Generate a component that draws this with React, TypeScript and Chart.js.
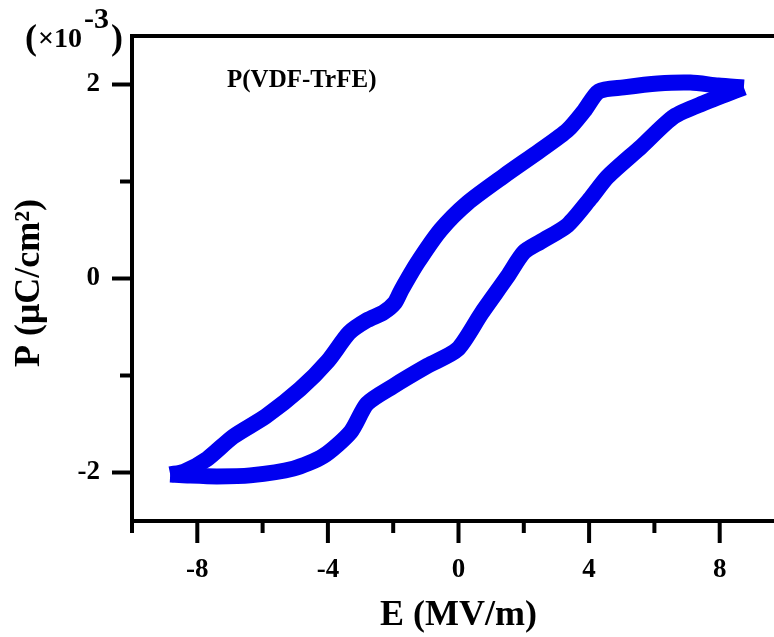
import { useEffect, useRef } from 'react';
import { Chart, registerables } from 'chart.js';

Chart.register(...registerables);

// Polarization loop, upper branch (field rising from -Emax to +Emax)
const upperE = [-8.83, -8.4, -7.7, -6.9, -5.9, -4.85, -4.0, -3.35, -2.8, -2.3, -1.95, -1.75, -1.26, -0.55, 0.28, 1.4, 2.5, 3.34, 3.85, 4.3, 5.06, 6.1, 7.1, 7.95, 8.74];
const upperP = [-2.02, -1.99, -1.86, -1.63, -1.42, -1.14, -0.85, -0.56, -0.43, -0.35, -0.25, -0.12, 0.16, 0.5, 0.78, 1.06, 1.32, 1.53, 1.73, 1.93, 1.97, 2.01, 2.02, 1.99, 1.97];

// Lower branch (field returning from +Emax to -Emax)
const lowerE = [8.74, 8.2, 7.6, 6.6, 5.6, 4.57, 4.05, 3.34, 2.52, 2.0, 1.5, 0.7, -0.03, -0.95, -2.0, -2.8, -3.3, -4.14, -5.06, -6.38, -7.4, -8.3, -8.83];
const lowerP = [1.97, 1.9, 1.82, 1.67, 1.36, 1.05, 0.83, 0.55, 0.38, 0.27, 0.02, -0.36, -0.73, -0.9, -1.11, -1.29, -1.58, -1.83, -1.96, -2.03, -2.04, -2.03, -2.02];

const eMajorTicks = [-8, -4, 0, 4, 8];
const eMinorTicks = [-10, -6, -2, 2, 6, 10];
const pMajorTicks = [-2, 0, 2];
const pMinorTicks = [-1, 1];

const eTitle = 'E (MV/m)';
const pTitle = 'P (\u03bcC/cm\u00b2) ';
const sampleLabel = 'P(VDF-TrFE)';

const FONT = "'Liberation Serif', 'Times New Roman', serif";
const LOOP_BLUE = '#0000f0';

const toPoints = (xs: number[], ys: number[]) => xs.map((x, i) => ({ x, y: ys[i] }));

// Axes box, outward tick marks (major + minor), exponent and sample label
const framePlugin = {
  id: 'frame',
  afterDraw(chart: any) {
    const { ctx, chartArea: a, scales } = chart;
    const xs = scales.x;
    const ys = scales.y;
    ctx.save();
    ctx.strokeStyle = '#000';
    ctx.lineWidth = 4;
    ctx.lineCap = 'butt';
    ctx.strokeRect(a.left, a.top, a.right - a.left, a.bottom - a.top);

    const seg = (x1: number, y1: number, x2: number, y2: number) => {
      ctx.beginPath();
      ctx.moveTo(x1, y1);
      ctx.lineTo(x2, y2);
      ctx.stroke();
    };
    eMajorTicks.forEach((v) => {
      const x = xs.getPixelForValue(v);
      seg(x, a.bottom, x, a.bottom + 22);
    });
    eMinorTicks.forEach((v) => {
      const x = xs.getPixelForValue(v);
      seg(x, a.bottom, x, a.bottom + 12);
    });
    pMajorTicks.forEach((v) => {
      const y = ys.getPixelForValue(v);
      seg(a.left, y, a.left - 20, y);
    });
    pMinorTicks.forEach((v) => {
      const y = ys.getPixelForValue(v);
      seg(a.left, y, a.left - 12, y);
    });

    // (×10^-3) multiplier
    ctx.fillStyle = '#000';
    ctx.textBaseline = 'alphabetic';
    ctx.textAlign = 'left';
    let x = a.left - 107;
    const base = a.top + 11;
    const piece = (text: string, size: number, dy: number, gap: number) => {
      ctx.font = `bold ${size}px ${FONT}`;
      ctx.fillText(text, x, base + dy);
      x += ctx.measureText(text).width + gap;
    };
    piece('(', 36, 2, 1);
    piece('\u00d710', 28, 0, 2);
    piece('-3', 30, -19, 2);
    piece(')', 36, 2, 0);

    ctx.font = `bold 25px ${FONT}`;
    ctx.fillText(sampleLabel, a.left + 95, a.top + 51);
    ctx.restore();
  },
};

export default function App() {
  const canvasRef = useRef<HTMLCanvasElement | null>(null);

  useEffect(() => {
    if (!canvasRef.current) return;
    const lineStyle = {
      showLine: true,
      borderColor: LOOP_BLUE,
      backgroundColor: LOOP_BLUE,
      borderWidth: 16,
      pointRadius: 0,
      pointHoverRadius: 0,
      tension: 0.25,
      borderCapStyle: 'butt' as const,
      borderJoinStyle: 'round' as const,
      fill: false,
      clip: false as const,
    };
    const noEdgePadding = (scale: any) => {
      scale.paddingTop = 0;
      scale.paddingBottom = 0;
      scale.paddingLeft = 0;
      scale.paddingRight = 0;
    };
    const chart = new Chart(canvasRef.current, {
      type: 'scatter',
      data: {
        datasets: [
          { label: 'upper', data: toPoints(upperE, upperP), ...lineStyle },
          { label: 'lower', data: toPoints(lowerE, lowerP), ...lineStyle },
        ],
      },
      options: {
        animation: false,
        responsive: true,
        maintainAspectRatio: false,
        layout: { padding: { left: 0, top: 36, right: 15, bottom: 0 } },
        plugins: {
          legend: { display: false },
          tooltip: { enabled: false },
        },
        scales: {
          x: {
            type: 'linear',
            min: -10,
            max: 10,
            grid: { display: false, drawTicks: false },
            border: { display: false },
            afterBuildTicks: (scale: any) => {
              scale.ticks = eMajorTicks.map((value) => ({ value }));
            },
            afterFit: (scale: any) => {
              scale.height = 116;
              noEdgePadding(scale);
            },
            ticks: {
              padding: 33,
              color: '#000',
              font: { family: FONT, size: 27, weight: 'bold' },
            },
            title: {
              display: true,
              text: eTitle,
              color: '#000',
              padding: { top: 0, bottom: 0 },
              font: { family: FONT, size: 36, weight: 'bold' },
            },
          },
          y: {
            type: 'linear',
            min: -2.5,
            max: 2.5,
            grid: { display: false, drawTicks: false },
            border: { display: false },
            afterBuildTicks: (scale: any) => {
              scale.ticks = pMajorTicks.map((value) => ({ value }));
            },
            afterFit: (scale: any) => {
              scale.width = 132;
              noEdgePadding(scale);
            },
            ticks: {
              padding: 32,
              color: '#000',
              font: { family: FONT, size: 27, weight: 'bold' },
            },
            title: {
              display: true,
              text: pTitle,
              color: '#000',
              padding: { top: 8, bottom: 0 },
              font: { family: FONT, size: 36, weight: 'bold' },
            },
          },
        },
      },
      plugins: [framePlugin],
    });
    return () => chart.destroy();
  }, []);

  return (
    <div style={{ position: 'fixed', left: 0, top: 0, width: 774, height: 637, overflow: 'hidden', background: '#fff' }}>
      <div style={{ position: 'relative', width: 800, height: 637 }}>
        <canvas ref={canvasRef} />
      </div>
    </div>
  );
}
